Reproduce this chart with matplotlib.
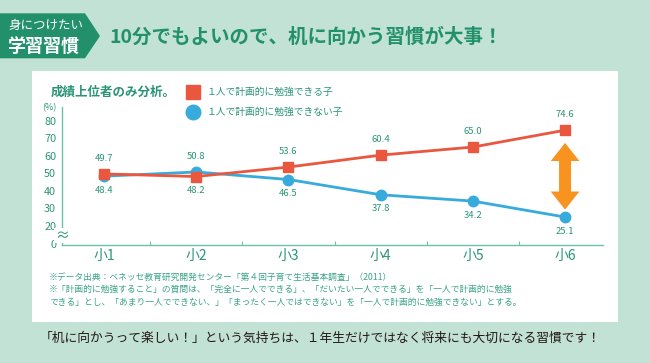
import matplotlib
matplotlib.use("Agg")
import matplotlib.pyplot as plt
from matplotlib.patches import Polygon, Rectangle
from matplotlib.lines import Line2D

plt.rcParams["font.family"] = ["Noto Sans CJK JP", "DejaVu Sans"]

# data
grades = ["小1", "小2", "小3", "小4", "小5", "小6"]
planned = [49.7, 48.2, 53.6, 60.4, 65.0, 74.6]
not_planned = [48.4, 50.8, 46.5, 37.8, 34.2, 25.1]
y_ticks = [10, 20, 30, 40, 50, 60, 70, 80]
y_labels = ["0", "20", "30", "40", "50", "60", "70", "80"]

label_planned = "１人で計画的に勉強できる子"
label_not = "１人で計画的に勉強できない子"
title = "10分でもよいので、机に向かう習慣が大事！"
badge_top = "身につけたい"
badge_bottom = "学習習慣"
subtitle = "成績上位者のみ分析。"
notes = [
    "※データ出典：ベネッセ教育研究開発センター「第４回子育て生活基本調査」（2011）",
    "※「計画的に勉強すること」の質問は、「完全に一人でできる」、「だいたい一人でできる」を「一人で計画的に勉強",
    "できる」とし、「あまり一人でできない、」「まったく一人ではできない」を「一人で計画的に勉強できない」とする。",
]
message = "「机に向かうって楽しい！」という気持ちは、１年生だけではなく将来にも大切になる習慣です！"

# colours
MINT = "#c2e2d6"
GREEN = "#23906c"
TEAL = "#2a9477"
NOTE = "#3aa487"
RED = "#e8573e"
BLUE = "#37abdc"
ORANGE = "#f7931e"
AXIS = "#6cbfa8"

W, H = 650, 363
fig = plt.figure(figsize=(W / 100, H / 100), dpi=100, facecolor=MINT)


def px(x, y):
    # pixel position (from top-left) -> figure fraction
    return x / W, 1 - y / H


# white panel
x0, y0 = px(32.3, 321.7)
x1, y1 = px(617.7, 71)
fig.patches.append(Rectangle((x0, y0), x1 - x0, y1 - y0, transform=fig.transFigure,
                             facecolor="white", edgecolor="none", zorder=-2))

# badge
badge = [px(0, 13.3), px(85, 13.3), px(100, 36), px(85, 58.3), px(0, 58.3)]
fig.patches.append(Polygon(badge, closed=True, transform=fig.transFigure,
                           facecolor=GREEN, edgecolor="none", zorder=-1))
fig.text(*px(8, 25), badge_top, color="white", fontsize=9, va="center", ha="left")
fig.text(*px(7, 46), badge_bottom, color="white", fontsize=13, fontweight="bold",
         va="center", ha="left")
fig.text(*px(109, 37), title, color=GREEN, fontsize=14, fontweight="bold",
         va="center", ha="left")

# subtitle + legend
fig.text(*px(51, 92), subtitle, color=TEAL, fontsize=9, fontweight="bold",
         va="center", ha="left")
fig.lines.append(Line2D([193.3 / W], [1 - 91.7 / H], transform=fig.transFigure,
                        marker="s", markersize=9.5, color=RED, linestyle="none"))
fig.lines.append(Line2D([193.3 / W], [1 - 111.5 / H], transform=fig.transFigure,
                        marker="o", markersize=10.5, color=BLUE, linestyle="none"))
fig.text(*px(207, 92), label_planned, color=TEAL, fontsize=7, va="center", ha="left")
fig.text(*px(207, 112), label_not, color=TEAL, fontsize=7, va="center", ha="left")

# chart
ax = fig.add_axes([61.7 / W, 1 - 245.3 / H, (603.3 - 61.7) / W, (245.3 - 106.7) / H])
ax.set_zorder(1)
ax.set_facecolor("none")
x = list(range(len(grades)))
ax.plot(x, not_planned, color=BLUE, linewidth=2.0, marker="o", markersize=7.5, zorder=3)
ax.plot(x, planned, color=RED, linewidth=2.0, marker="s", markersize=7.5, zorder=4)

for i in x:
    hi, lo = max(planned[i], not_planned[i]), min(planned[i], not_planned[i])
    ax.annotate(f"{hi:.1f}", (i, hi), xytext=(0, 8), textcoords="offset points",
                ha="center", va="bottom", color=TEAL, fontsize=6.8)
    ax.annotate(f"{lo:.1f}", (i, lo), xytext=(0, -7), textcoords="offset points",
                ha="center", va="top", color=TEAL, fontsize=6.8)

ax.set_xlim(-0.46, 5.415)
ax.set_ylim(9, 88)
ax.set_xticks(x)
ax.set_xticklabels(grades, color=TEAL, fontsize=10)
ax.set_xticks([i + 0.5 for i in x[:-1]], minor=True)
ax.tick_params(axis="x", which="major", length=0, pad=3)
ax.tick_params(axis="x", which="minor", direction="in", length=3, color=AXIS, width=0.8)
ax.set_yticks(y_ticks)
ax.set_yticklabels(y_labels, color=TEAL, fontsize=7.8)
ax.tick_params(axis="y", length=0, pad=4)
for s in ["top", "right"]:
    ax.spines[s].set_visible(False)
for s in ["left", "bottom"]:
    ax.spines[s].set_color(AXIS)
    ax.spines[s].set_linewidth(1.0)
ax.text(-0.46, 14.5, "≈", color=TEAL, fontsize=10, ha="center", va="center",
        bbox=dict(facecolor="white", edgecolor="none", pad=0.2), zorder=5)
ax.annotate("(%)", (0, 1), xycoords="axes fraction", xytext=(-9, -1),
            textcoords="offset points", ha="center", va="center", color=TEAL, fontsize=6.5)

# gap arrow at last grade
last = x[-1]
mid = (planned[-1] + not_planned[-1]) / 2 - 1.5
half, head, hw, sw = 19, 10.3, 0.155, 0.065
arrow = [(last, mid + half), (last + hw, mid + half - head), (last + sw, mid + half - head),
         (last + sw, mid - half + head), (last + hw, mid - half + head), (last, mid - half),
         (last - hw, mid - half + head), (last - sw, mid - half + head),
         (last - sw, mid + half - head), (last - hw, mid + half - head)]
ax.add_patch(Polygon(arrow, closed=True, facecolor=ORANGE, edgecolor="none", zorder=2))

# notes
for k, line in enumerate(notes):
    fig.text(*px(49, 277 + k * 12.5), line, color=NOTE, fontsize=6.3, va="center", ha="left")

fig.text(*px(40, 338.5), message, color="#231815", fontsize=9.2, va="center", ha="left")

fig.savefig("out.png", dpi=100, facecolor=MINT)
